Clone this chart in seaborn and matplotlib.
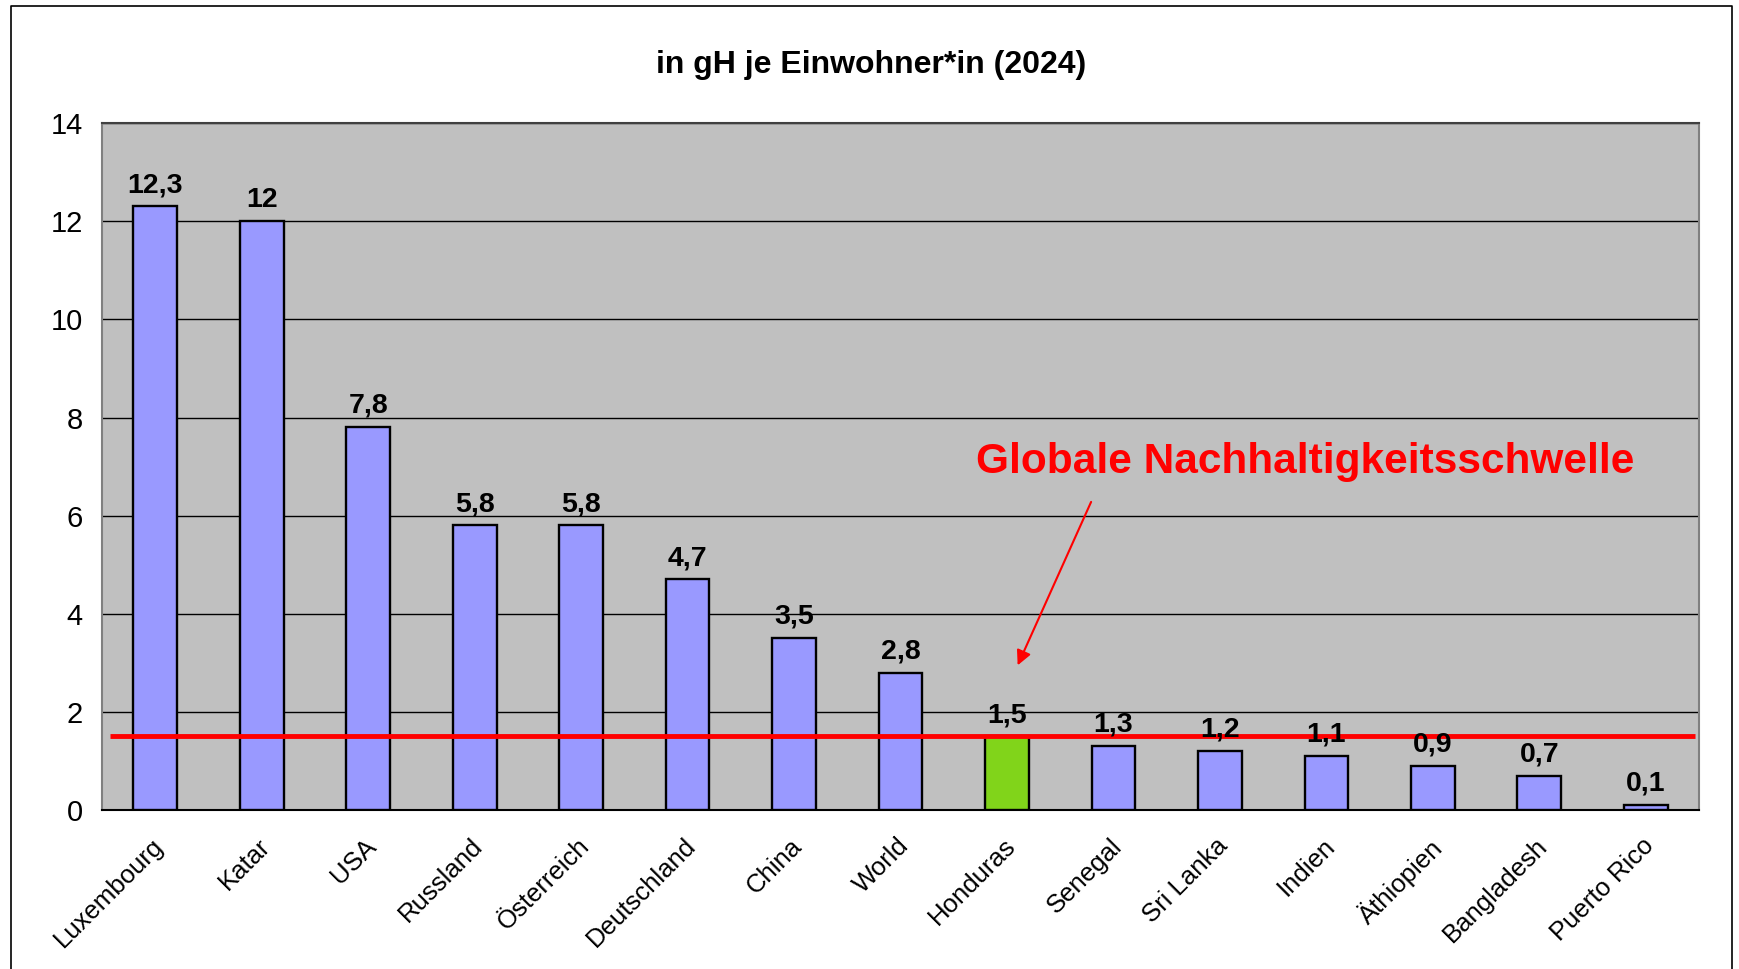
import matplotlib
matplotlib.use("Agg")
import matplotlib.pyplot as plt
import matplotlib.transforms as mtransforms
import seaborn as sns
import pandas as pd
from matplotlib.lines import Line2D

# data
countries = ["Luxembourg", "Katar", "USA", "Russland", "Österreich", "Deutschland",
             "China", "World", "Honduras", "Senegal", "Sri Lanka", "Indien",
             "Äthiopien", "Bangladesh", "Puerto Rico"]
values = [12.3, 12, 7.8, 5.8, 5.8, 4.7, 3.5, 2.8, 1.5, 1.3, 1.2, 1.1, 0.9, 0.7, 0.1]
labels = ["12,3", "12", "7,8", "5,8", "5,8", "4,7", "3,5", "2,8", "1,5", "1,3",
          "1,2", "1,1", "0,9", "0,7", "0,1"]
threshold = 1.5
highlight = "Honduras"

sns.set_style("white")
plt.rcParams['font.family'] = ['Liberation Sans', 'DejaVu Sans']
plt.rcParams['text.color'] = 'black'
plt.rcParams['xtick.labelcolor'] = 'black'
plt.rcParams['ytick.labelcolor'] = 'black'

df = pd.DataFrame({"Land": countries, "Wert": values})
palette = {c: ("#81d41a" if c == highlight else "#9999ff") for c in countries}

fig = plt.figure(figsize=(17.39, 9.69), dpi=100)
ax = fig.add_axes([0.0587, 0.164, 0.9183, 0.709])

sns.barplot(data=df, x="Land", y="Wert", hue="Land", palette=palette, legend=False,
            width=0.41, edgecolor="black", linewidth=1.7, saturation=1, ax=ax, zorder=3)

ax.set_facecolor("#c0c0c0")
ax.set_ylim(0, 14)
ax.set_xlim(-0.5, len(countries) - 0.5)
ax.set_yticks(range(0, 15, 2))
ax.yaxis.grid(True, color="black", linewidth=1)
ax.set_axisbelow(True)
ax.set_xlabel("")
ax.set_ylabel("")

# x ticks sit between the categories
ax.set_xticks([i - 0.5 for i in range(len(countries) + 1)], minor=True)
ax.tick_params(axis="x", which="minor", length=10, width=1, color="black", direction="out")
ax.tick_params(axis="x", which="major", length=0, pad=17)
ax.tick_params(axis="y", length=10, width=1, color="black", direction="out", labelsize=21, pad=4)
ax.set_xticks(range(len(countries)))
ax.set_xticklabels(countries, rotation=45, ha="right", rotation_mode="anchor", fontsize=18.5)
shift = mtransforms.ScaledTranslation(-4 / 100, 0, fig.dpi_scale_trans)
for lbl in ax.get_xticklabels():
    lbl.set_transform(lbl.get_transform() + shift)

for side in ["left", "top", "right"]:
    ax.spines[side].set_color("#808080")
    ax.spines[side].set_linewidth(1.5)
ax.spines["top"].set_color("#404040")
ax.spines["bottom"].set_color("black")
ax.spines["bottom"].set_linewidth(1.5)

# value labels
for i, (v, t) in enumerate(zip(values, labels)):
    ax.annotate(t, (i, v), xytext=(0, 6), textcoords="offset points",
                ha="center", va="bottom", fontsize=20.5, fontweight="bold", zorder=6)

# threshold line and annotation
ax.hlines(threshold, -0.43, len(countries) - 0.54, color="#ff0000", linewidth=3.5, zorder=5)
ax.text(10.8, 7.1, "Globale Nachhaltigkeitsschwelle", color="#ff0000", fontsize=30.5,
        fontweight="bold", ha="center", va="center", zorder=6)
ax.annotate("", xy=(8.1, 2.95), xytext=(8.79, 6.28),
            arrowprops=dict(arrowstyle="-|>", color="#ff0000", lw=1.5,
                            mutation_scale=22, shrinkA=0, shrinkB=0), zorder=6)

fig.text(0.501, 0.933, "in gH je Einwohner*in (2024)", ha="center", va="center",
         fontsize=23, fontweight="bold")

# outer frame (open at the bottom)
frame_x = [0.0063, 0.0063, 0.996, 0.996]
frame_y = [0.0, 0.994, 0.994, 0.0]
fig.add_artist(Line2D(frame_x, frame_y, transform=fig.transFigure, color="black", linewidth=1.2))

fig.savefig("out.png", dpi=100)
